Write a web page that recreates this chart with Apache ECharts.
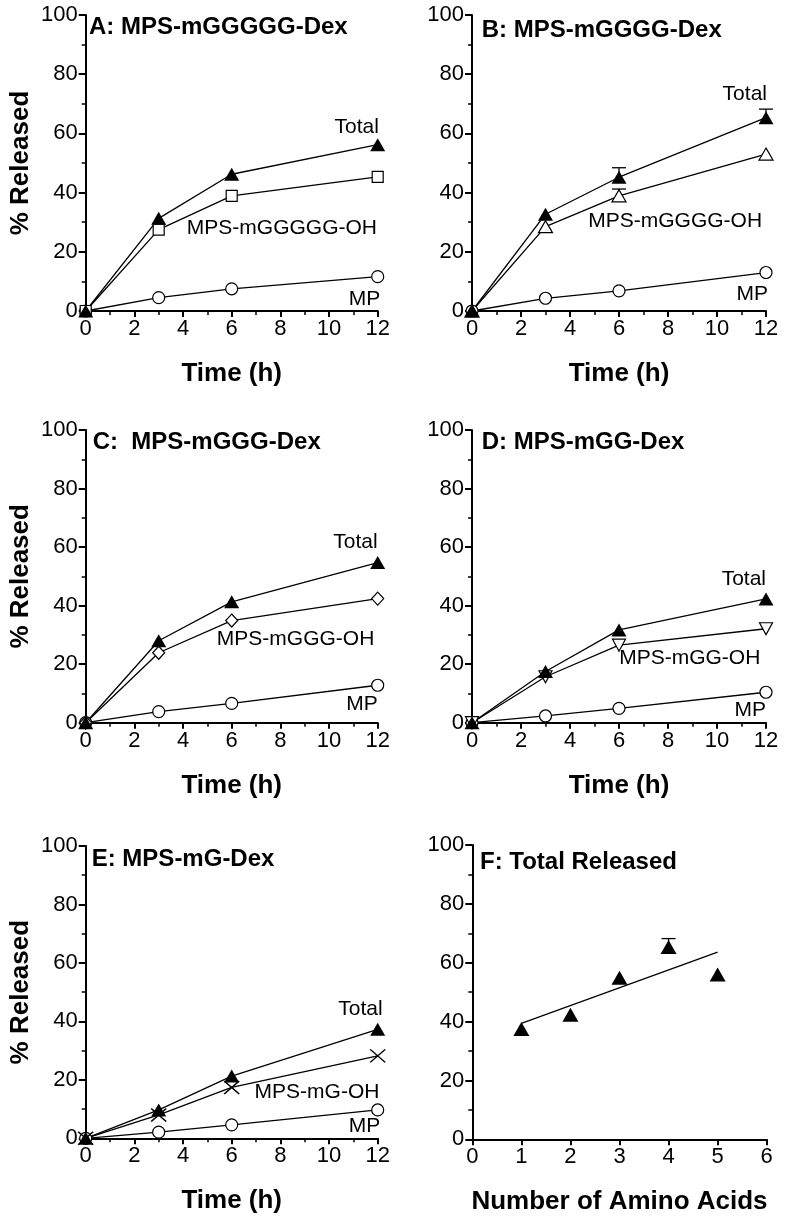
<!DOCTYPE html>
<html><head><meta charset="utf-8">
<script src="https://cdn.jsdelivr.net/npm/echarts@6/dist/echarts.min.js"></script>
<style>html,body{margin:0;padding:0;background:#fff}#c{width:800px;height:1228px}</style>
</head><body><div id="c"></div>
<script>
// ---------- data ----------
const timeH = [0, 3, 6, 12];
const timeTicks = [0, 2, 4, 6, 8, 10, 12];
const pctTicks = [0, 20, 40, 60, 80, 100];

// Panel A: MPS-mGGGGG-Dex
const aTotal = [0, 31.3, 46.2, 56.2];
const aOH = [0, 27.5, 38.9, 45.3];
const aMP = [0, 4.5, 7.5, 11.6];
// Panel B: MPS-mGGGG-Dex
const bTotal = [0, 32.7, 45.2, 65.3];
const bTotalErr = [0, 0, 3.2, 2.9];
const bOH = [0, 28.5, 38.9, 53.0];
const bOHErr = [0, 0, 2.3, 0];
const bMP = [0, 4.3, 6.8, 13.0];
// Panel C: MPS-mGGG-Dex
const cTotal = [0, 28.0, 41.3, 54.7];
const cOH = [0, 23.9, 34.9, 42.4];
const cMP = [0, 3.8, 6.6, 12.8];
// Panel D: MPS-mGG-Dex
const dTotal = [0, 17.5, 31.7, 42.3];
const dOH = [0, 15.7, 26.5, 32.1];
const dMP = [0, 2.3, 4.9, 10.4];
// Panel E: MPS-mG-Dex
const eTotal = [0, 9.7, 21.3, 37.3];
const eOH = [0, 8.0, 17.4, 28.2];
const eMP = [0, 2.1, 4.6, 9.7];
// Panel F: Total released vs number of amino acids
const aminoAcids = [1, 2, 3, 4, 5];
const fTotal = [37.5, 42.3, 54.9, 65.3, 56.0];
const fTotalErr = [0, 0, 0, 2.9, 0];
const fFitX = [1, 5];
const fFitY = [39.4, 63.6];

const panelTitles = ['A: MPS-mGGGGG-Dex', 'B: MPS-mGGGG-Dex', 'C:  MPS-mGGG-Dex', 'D: MPS-mGG-Dex', 'E: MPS-mG-Dex', 'F: Total Released'];
const ohNames = ['MPS-mGGGGG-OH', 'MPS-mGGGG-OH', 'MPS-mGGG-OH', 'MPS-mGG-OH', 'MPS-mG-OH'];
// annotation anchors (data coords: right edge, vertical middle)
const labelPos = [
  [[12.05, 62.0], [11.97, 28.1], [12.1, 4.1]],
  [[12.04, 73.2], [11.84, 30.4], [12.08, 5.6]],
  [[12.0, 61.8], [11.86, 28.6], [12.0, 6.4]],
  [[12.0, 48.9], [11.77, 22.1], [12.0, 4.1]],
  [[12.2, 44.2], [12.07, 15.7], [12.1, 4.3]]
];

// ---------- layout / style ----------
const FONT = '"Liberation Sans", Arial, Helvetica, sans-serif';
const grids = [
  {left: 85.7, top: 15, width: 292, height: 296},
  {left: 472, top: 15, width: 294, height: 296},
  {left: 85.7, top: 430, width: 292, height: 292.7},
  {left: 472, top: 430, width: 294, height: 292.7},
  {left: 85.7, top: 846, width: 292, height: 292.3},
  {left: 472.3, top: 845, width: 294.4, height: 294.3}
];
const titlePos = [[89, 15], [481.7, 18], [92.7, 430], [481.7, 430], [91.7, 847], [480, 850]];

const axisLine = {show: true, onZero: false, lineStyle: {color: '#000', width: 2}};
function xAxisDef(i) {
  const isF = i === 5;
  return {
    gridIndex: i, type: 'value',
    min: 0, max: isF ? 6 : timeTicks[timeTicks.length - 1], interval: isF ? 1 : 2,
    axisLine,
    axisTick: {show: true, length: 6, lineStyle: {color: '#000', width: 2}},
    minorTick: {show: !isF, splitNumber: 2, length: 4, lineStyle: {color: '#000', width: 1.5}},
    splitLine: {show: false},
    axisLabel: {color: '#000', fontSize: 22, fontFamily: FONT, margin: 7},
    name: isF ? 'Number of Amino Acids' : 'Time (h)',
    nameLocation: 'middle', nameGap: 50,
    nameTextStyle: {color: '#000', fontSize: 26, fontWeight: 'bold', fontFamily: FONT}
  };
}
function yAxisDef(i) {
  const left = i % 2 === 0;
  return {
    gridIndex: i, type: 'value', min: pctTicks[0], max: pctTicks[pctTicks.length - 1], interval: 20,
    axisLine,
    axisTick: {show: true, length: 7, lineStyle: {color: '#000', width: 2}},
    minorTick: {show: true, splitNumber: 2, length: 4, lineStyle: {color: '#000', width: 1.5}},
    splitLine: {show: false},
    axisLabel: {color: '#000', fontSize: 22, fontFamily: FONT, margin: 8},
    name: left ? '% Released' : '',
    nameLocation: 'middle', nameGap: 52, nameRotate: 90,
    nameTextStyle: {color: '#000', fontSize: 26, fontWeight: 'bold', fontFamily: FONT}
  };
}

const openStyle = {color: '#fff', borderColor: '#000', borderWidth: 1.2, opacity: 1};
const filledStyle = {color: '#000', borderColor: '#000', borderWidth: 0, opacity: 1};
const crossPath = 'path://M0,0L10,10M10,0L0,10';

function lineSeries(i, ys, symbol, size, style, extra) {
  return Object.assign({
    type: 'line', xAxisIndex: i, yAxisIndex: i,
    data: timeH.map((t, k) => [t, ys[k]]),
    symbol, symbolSize: size, showSymbol: true,
    lineStyle: {color: '#000', width: 1.3},
    itemStyle: style, emphasis: {disabled: true}, silent: true, z: 3
  }, extra || {});
}
function errSeries(i, xs, ys, errs) {
  return {
    type: 'custom', xAxisIndex: i, yAxisIndex: i, z: 2, silent: true,
    data: xs.map((x, k) => [x, ys[k], errs[k]]).filter(d => d[2] > 0),
    encode: {x: 0, y: 1},
    renderItem(params, api) {
      const x = api.value(0), y = api.value(1), e = api.value(2);
      const p0 = api.coord([x, y]);
      const p1 = api.coord([x, y + e]);
      const hw = 7;
      const st = {stroke: '#000', lineWidth: 1.3};
      return {type: 'group', children: [
        {type: 'line', shape: {x1: p0[0], y1: p0[1], x2: p1[0], y2: p1[1]}, style: st},
        {type: 'line', shape: {x1: p1[0] - hw, y1: p1[1], x2: p1[0] + hw, y2: p1[1]}, style: st}
      ]};
    }
  };
}

const panels = [
  {mp: aMP, oh: aOH, tot: aTotal, ohSym: 'rect', ohSize: 11, ohStyle: openStyle},
  {mp: bMP, oh: bOH, tot: bTotal, ohSym: 'triangle', ohSize: [14, 12], ohStyle: openStyle},
  {mp: cMP, oh: cOH, tot: cTotal, ohSym: 'diamond', ohSize: [12, 13], ohStyle: openStyle},
  {mp: dMP, oh: dOH, tot: dTotal, ohSym: 'triangle', ohSize: [13, 12], ohStyle: openStyle, ohRot: 180},
  {mp: eMP, oh: eOH, tot: eTotal, ohSym: crossPath, ohSize: [15, 13], ohStyle: {color: 'none', borderColor: '#000', borderWidth: 1.5}}
];

const series = [];
panels.forEach((p, i) => {
  series.push(lineSeries(i, p.mp, 'circle', 12, openStyle));
  series.push(lineSeries(i, p.oh, p.ohSym, p.ohSize, p.ohStyle, p.ohRot ? {symbolRotate: p.ohRot} : null));
  series.push(lineSeries(i, p.tot, 'triangle', [15, 13], filledStyle));
});
series.push(errSeries(1, timeH, bTotal, bTotalErr));
series.push(errSeries(1, timeH, bOH, bOHErr));
// Panel F
series.push({
  type: 'line', xAxisIndex: 5, yAxisIndex: 5, data: fFitX.map((x, k) => [x, fFitY[k]]),
  showSymbol: false, symbol: 'none', lineStyle: {color: '#000', width: 1.3}, silent: true, z: 2
});
series.push(errSeries(5, aminoAcids, fTotal, fTotalErr));
series.push({
  type: 'scatter', xAxisIndex: 5, yAxisIndex: 5, data: aminoAcids.map((x, k) => [x, fTotal[k]]),
  symbol: 'triangle', symbolSize: [16, 14], itemStyle: filledStyle, silent: true, z: 3
});

const chart = echarts.init(document.getElementById('c'), null, {renderer: 'canvas'});
chart.setOption({
  animation: false,
  backgroundColor: '#fff',
  textStyle: {fontFamily: FONT},
  title: panelTitles.map((t, i) => ({
    text: t, left: titlePos[i][0], top: titlePos[i][1], padding: 0,
    textStyle: {color: '#000', fontSize: 24, fontWeight: 'bold', fontFamily: FONT}
  })),
  grid: grids.map(g => Object.assign({outerBoundsMode: 'none', containLabel: false}, g)),
  xAxis: grids.map((g, i) => xAxisDef(i)),
  yAxis: grids.map((g, i) => yAxisDef(i)),
  series
});

// series annotations
const graphics = [];
labelPos.forEach((arr, i) => {
  const texts = ['Total', ohNames[i], 'MP'];
  arr.forEach((pos, k) => {
    const px = chart.convertToPixel({xAxisIndex: i, yAxisIndex: i}, pos);
    graphics.push({
      type: 'text', x: px[0], y: px[1], silent: true,
      style: {text: texts[k], fill: '#000', font: '21px ' + FONT, align: 'right', verticalAlign: 'middle'}
    });
  });
});
chart.setOption({graphic: graphics});
</script>
</body></html>
